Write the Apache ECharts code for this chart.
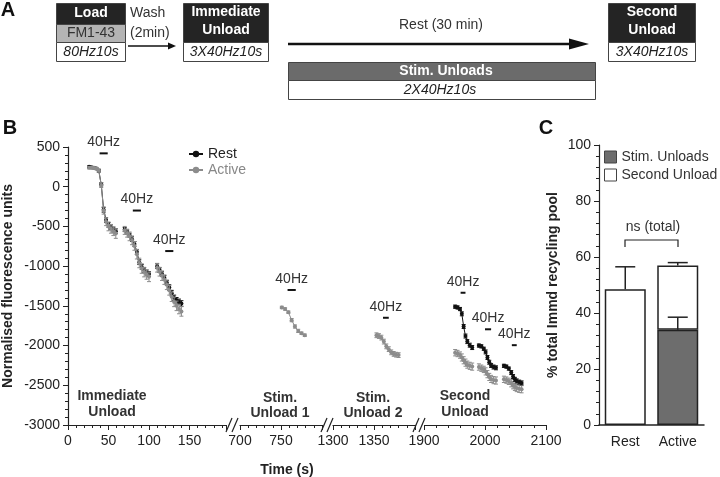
<!DOCTYPE html>
<html><head><meta charset="utf-8">
<script src="https://cdn.jsdelivr.net/npm/echarts@6/dist/echarts.min.js"></script>
<style>html,body{margin:0;padding:0;background:#fff}#c{width:720px;height:477px}</style>
</head><body><div id="c"></div>
<script>
const FONT = '"Liberation Sans", Arial, Helvetica, sans-serif';

// ---------- Panel B data (time in s, normalised fluorescence units) ----------
// Immediate unload, three 40Hz trains
const immT1 = [26, 29, 32, 35, 38, 41, 44, 47, 50, 53, 56, 59];
const immRest1 = [250, 245, 240, 230, 200, 30, -290, -420, -480, -510, -540, -560];
const immAct1 = [240, 240, 235, 228, 205, 20, -300, -440, -500, -530, -560, -590];
const immRestErr1 = [10, 10, 12, 12, 15, 20, 30, 30, 30, 30, 30, 30];
const immActErr1 = [15, 15, 15, 15, 20, 30, 45, 50, 55, 55, 55, 60];

const immT2 = [70, 73, 76, 79, 82, 85, 88, 91, 94, 97, 100];
const immRest2 = [-540, -570, -610, -660, -720, -820, -950, -1010, -1050, -1080, -1100];
const immAct2 = [-550, -585, -625, -675, -745, -850, -960, -1030, -1075, -1105, -1135];
const immRestErr2 = [25, 25, 25, 30, 30, 30, 30, 30, 30, 30, 30];
const immActErr2 = [50, 50, 55, 55, 55, 60, 60, 60, 60, 60, 60];

const immT3 = [110, 113, 116, 119, 122, 125, 128, 131, 134, 137, 140];
const immRest3 = [-1000, -1050, -1100, -1150, -1210, -1270, -1340, -1400, -1430, -1450, -1470];
const immAct3 = [-1020, -1070, -1120, -1170, -1235, -1305, -1385, -1450, -1500, -1540, -1570];
const immRestErr3 = [30, 30, 30, 30, 30, 35, 35, 35, 35, 35, 35];
const immActErr3 = [55, 55, 60, 60, 60, 60, 60, 60, 60, 60, 60];

// Stim. Unload 1 (Active only)
const s1T = [751, 755, 759, 763, 767, 771, 775, 779];
const s1Act = [-1520, -1540, -1580, -1680, -1760, -1815, -1845, -1870];
const s1Err = [15, 15, 15, 20, 20, 20, 15, 15];

// Stim. Unload 2 (Active only)
const s2T = [1353, 1356, 1359, 1362, 1365, 1368, 1371, 1374, 1377, 1380];
const s2Act = [-1870, -1880, -1900, -1950, -2010, -2045, -2085, -2105, -2115, -2120];
const s2Err = [30, 30, 30, 30, 30, 30, 30, 30, 30, 30];

// Second unload, three 40Hz trains
const secT1 = [1951, 1955, 1959, 1962, 1965, 1968, 1971, 1975, 1979];
const secRest1 = [-1510, -1520, -1540, -1600, -1760, -1880, -1950, -1995, -2025];
const secAct1 = [-2090, -2100, -2120, -2150, -2185, -2215, -2240, -2255, -2265];
const secT2 = [1990, 1994, 1998, 2001, 2004, 2007, 2010, 2014, 2018];
const secRest2 = [-2000, -2010, -2040, -2080, -2150, -2210, -2250, -2270, -2280];
const secAct2 = [-2270, -2285, -2300, -2325, -2360, -2395, -2420, -2435, -2440];
const secT3 = [2031, 2035, 2039, 2043, 2046, 2049, 2052, 2056, 2060];
const secRest3 = [-2255, -2265, -2290, -2340, -2390, -2425, -2445, -2460, -2470];
const secAct3 = [-2425, -2435, -2450, -2475, -2500, -2520, -2535, -2545, -2550];
const secRestErr = [20, 20, 20, 25, 25, 25, 25, 25, 25];
const secActErr = [40, 40, 40, 45, 45, 45, 45, 45, 45];

// 40Hz stimulus bars: [start s, end s, level]
const stimSeg1 = [[39, 49, 420], [80, 90, -300], [120, 130, -810]];
const stimSeg2 = [[758, 768, -1300]];
const stimSeg3 = [[1361, 1368, -1650]];
const stimSeg4 = [[1960, 1968, -1335], [2000, 2010, -1795], [2044, 2052, -1995]];

// ---------- Panel C data (% total Immd recycling pool) ----------
const condCats = ['Rest', 'Active'];
const stimUnloadPct = ['-', 34];
const secondUnloadPct = [48.5, 23];
const totalPct = [48.5, 57];
const totalErr = [8, 1];
const stimErr = [null, 4.5];

// ---------- helpers ----------
const REST_C = '#111';
const ACT_C = '#8c8c8c';
const plain = v => String(v);

function pts(ts, vs) { return ts.map((t, i) => [t, vs[i]]); }
function ptsErr(ts, vs, es) { return ts.map((t, i) => [t, vs[i], es[i]]); }

function lineS(name, g, ts, vs, color, z) {
  return {
    type: 'line', name, xAxisIndex: g, yAxisIndex: g, data: pts(ts, vs),
    symbol: 'circle', symbolSize: 4, showSymbol: true,
    lineStyle: { width: 1, color }, itemStyle: { color }, z, silent: true
  };
}
function errS(g, ts, vs, es, color, z) {
  return {
    type: 'custom', name: 'err', xAxisIndex: g, yAxisIndex: g, z, silent: true,
    data: ptsErr(ts, vs, es), encode: { x: 0, y: 1 },
    renderItem: (p, api) => {
      const t = api.value(0), v = api.value(1), e = api.value(2);
      const hi = api.coord([t, v + e]), lo = api.coord([t, v - e]);
      const w = 2, st = { stroke: color, lineWidth: 1 };
      return { type: 'group', children: [
        { type: 'line', shape: { x1: hi[0], y1: hi[1], x2: lo[0], y2: lo[1] }, style: st },
        { type: 'line', shape: { x1: hi[0] - w, y1: hi[1], x2: hi[0] + w, y2: hi[1] }, style: st },
        { type: 'line', shape: { x1: lo[0] - w, y1: lo[1], x2: lo[0] + w, y2: lo[1] }, style: st }
      ] };
    }
  };
}
function stimS(g, arr) {
  return {
    type: 'custom', name: 'stim', xAxisIndex: g, yAxisIndex: g, z: 8, silent: true,
    data: arr, encode: { x: [0, 1], y: 2 },
    renderItem: (p, api) => {
      const a = api.coord([api.value(0), api.value(2)]);
      const b = api.coord([api.value(1), api.value(2)]);
      return { type: 'group', children: [
        { type: 'line', shape: { x1: a[0], y1: a[1], x2: b[0], y2: b[1] }, style: { stroke: '#111', lineWidth: 2 } },
        { type: 'text', style: { text: '40Hz', x: (a[0] + b[0]) / 2, y: a[1] - 4, align: 'center', verticalAlign: 'bottom',
          font: '14px ' + FONT, fill: '#333' } }
      ] };
    }
  };
}

const axCol = '#222';
function bx(g, min, max, interval, hideMax) {
  return {
    type: 'value', gridIndex: g, min, max, interval,
    axisLine: { show: true, onZero: false, lineStyle: { color: axCol, width: 1.2 } },
    axisTick: { show: true, length: 5, lineStyle: { color: axCol, width: 1 } },
    minorTick: { show: true, splitNumber: 5, length: 3, lineStyle: { color: axCol, width: 1 } },
    splitLine: { show: false },
    axisLabel: { fontSize: 14, color: axCol, margin: 9, fontFamily: FONT, formatter: plain,
      showMaxLabel: !hideMax, showMinLabel: true }
  };
}
function by(g, show) {
  return {
    type: 'value', gridIndex: g, min: -3000, max: 500, interval: 500, show,
    axisLine: { show: true, onZero: false, lineStyle: { color: axCol, width: 1.2 } },
    axisTick: { show: true, length: 5, lineStyle: { color: axCol } },
    minorTick: { show: true, splitNumber: 5, length: 3, lineStyle: { color: axCol } },
    splitLine: { show: false },
    axisLabel: { fontSize: 14, color: axCol, margin: 8, fontFamily: FONT, formatter: plain },
    name: show ? 'Normalised fluorescence units' : '', nameLocation: 'middle', nameGap: 53,
    nameTextStyle: { fontWeight: 'bold', fontSize: 14, color: axCol, fontFamily: FONT }
  };
}

// ---------- graphic annotations ----------
function T(x, y, text, o) {
  o = o || {};
  return { type: 'text', x, y, silent: true, z: 10, style: {
    text, fill: o.fill || '#222', align: o.align || 'center', verticalAlign: 'middle',
    font: (o.style || 'normal') + ' ' + (o.weight || 'normal') + ' ' + (o.size || 14) + 'px ' + FONT } };
}
function R(x, y, w, h, fill) {
  return { type: 'rect', silent: true, shape: { x, y, width: w, height: h }, style: { fill, stroke: '#444', lineWidth: 1 } };
}
function L(x1, y1, x2, y2, w, c) {
  return { type: 'line', silent: true, z: 10, shape: { x1, y1, x2, y2 }, style: { stroke: c || '#111', lineWidth: w || 1 } };
}
function brk(cx, y) {
  return [
    { type: 'rect', silent: true, z: 9, shape: { x: cx - 4, y: y - 3, width: 8, height: 6 }, style: { fill: '#fff' } },
    L(cx - 7, y + 7, cx - 1, y - 7, 1.2, '#222'),
    L(cx - 1, y + 7, cx + 5, y - 7, 1.2, '#222')
  ];
}

const graphics = [
  // Panel A
  T(8, 10, 'A', { weight: 'bold', size: 20, fill: '#111' }),
  R(56.5, 3.5, 69, 21, '#242424'), R(56.5, 24.5, 69, 18, '#b4b4b4'), R(56.5, 42.5, 69, 19, '#fff'),
  T(91, 13.5, 'Load', { weight: 'bold', fill: '#fff' }),
  T(91, 33.5, 'FM1-43', { fill: '#333' }),
  T(91, 52, '80Hz10s', { style: 'italic', fill: '#222' }),
  T(130, 13.5, 'Wash', { align: 'left', fill: '#333' }),
  T(130, 33.5, '(2min)', { align: 'left', fill: '#333' }),
  L(128, 46, 170, 46, 1.5),
  { type: 'polygon', silent: true, shape: { points: [[176, 46], [168, 42.5], [168, 49.5]] }, style: { fill: '#111' } },
  R(183.5, 3.5, 85, 39, '#242424'), R(183.5, 42.5, 85, 19, '#fff'),
  T(226, 12.5, 'Immediate', { weight: 'bold', fill: '#fff' }),
  T(226, 30, 'Unload', { weight: 'bold', fill: '#fff' }),
  T(226, 52, '3X40Hz10s', { style: 'italic' }),
  L(288, 44, 574, 44, 2.5),
  { type: 'polygon', silent: true, shape: { points: [[589, 44], [569, 38.5], [569, 49.5]] }, style: { fill: '#111' } },
  T(441, 25, 'Rest (30 min)', { fill: '#333' }),
  R(288.5, 62.5, 307, 18, '#6b6b6b'), R(288.5, 80.5, 307, 19, '#fff'),
  T(446, 71.5, 'Stim. Unloads', { weight: 'bold', fill: '#fff' }),
  T(440, 90, '2X40Hz10s', { style: 'italic' }),
  R(608.5, 3.5, 87, 39, '#242424'), R(608.5, 42.5, 87, 19, '#fff'),
  T(652, 12.5, 'Second', { weight: 'bold', fill: '#fff' }),
  T(652, 30, 'Unload', { weight: 'bold', fill: '#fff' }),
  T(652, 52, '3X40Hz10s', { style: 'italic' }),
  // Panel B
  T(10, 128, 'B', { weight: 'bold', size: 20, fill: '#111' }),
  T(112, 396, 'Immediate', { weight: 'bold', fill: '#333' }),
  T(112, 412, 'Unload', { weight: 'bold', fill: '#333' }),
  T(280, 398, 'Stim.', { weight: 'bold', fill: '#333' }),
  T(280, 413, 'Unload 1', { weight: 'bold', fill: '#333' }),
  T(373, 398, 'Stim.', { weight: 'bold', fill: '#333' }),
  T(373, 413, 'Unload 2', { weight: 'bold', fill: '#333' }),
  T(465, 396, 'Second', { weight: 'bold', fill: '#333' }),
  T(465, 412, 'Unload', { weight: 'bold', fill: '#333' }),
  T(287, 470, 'Time (s)', { weight: 'bold', fill: '#222' }),
  ...brk(233, 425), ...brk(328, 425), ...brk(420, 425),
  // Panel C
  T(546, 128, 'C', { weight: 'bold', size: 20, fill: '#111' }),
  T(653, 227, 'ns (total)', { fill: '#333' }),
  { type: 'polyline', silent: true, shape: { points: [[625, 247], [625, 240], [678, 240], [678, 247]] }, style: { stroke: '#222', lineWidth: 1.2, fill: null } }
];

// ---------- series ----------
const series = [
  // seg 1: Rest first, Active drawn over it
  lineS('Rest', 0, immT1, immRest1, REST_C, 3),
  lineS('Active', 0, immT1, immAct1, ACT_C, 5),
  lineS('Active', 0, immT2, immAct2, ACT_C, 5),
  lineS('Active', 0, immT3, immAct3, ACT_C, 5),
  lineS('Rest', 0, immT2, immRest2, REST_C, 3),
  lineS('Rest', 0, immT3, immRest3, REST_C, 3),
  errS(0, immT1, immRest1, immRestErr1, REST_C, 2),
  errS(0, immT2, immRest2, immRestErr2, REST_C, 2),
  errS(0, immT3, immRest3, immRestErr3, REST_C, 2),
  errS(0, immT1, immAct1, immActErr1, ACT_C, 4),
  errS(0, immT2, immAct2, immActErr2, ACT_C, 4),
  errS(0, immT3, immAct3, immActErr3, ACT_C, 4),
  stimS(0, stimSeg1),
  // seg 2
  lineS('Active', 1, s1T, s1Act, ACT_C, 5),
  errS(1, s1T, s1Act, s1Err, ACT_C, 4),
  stimS(1, stimSeg2),
  // seg 3
  lineS('Active', 2, s2T, s2Act, ACT_C, 5),
  errS(2, s2T, s2Act, s2Err, ACT_C, 4),
  stimS(2, stimSeg3),
  // seg 4
  lineS('Active', 3, secT1, secAct1, ACT_C, 3),
  lineS('Active', 3, secT2, secAct2, ACT_C, 3),
  lineS('Active', 3, secT3, secAct3, ACT_C, 3),
  errS(3, secT1, secAct1, secActErr, ACT_C, 2),
  errS(3, secT2, secAct2, secActErr, ACT_C, 2),
  errS(3, secT3, secAct3, secActErr, ACT_C, 2),
  lineS('Rest', 3, secT1, secRest1, REST_C, 5),
  lineS('Rest', 3, secT2, secRest2, REST_C, 5),
  lineS('Rest', 3, secT3, secRest3, REST_C, 5),
  errS(3, secT1, secRest1, secRestErr, REST_C, 4),
  errS(3, secT2, secRest2, secRestErr, REST_C, 4),
  errS(3, secT3, secRest3, secRestErr, REST_C, 4),
  stimS(3, stimSeg4),
  // Panel C bars
  { type: 'bar', name: 'Stim. Unloads', xAxisIndex: 4, yAxisIndex: 4, stack: 'pool', data: stimUnloadPct,
    barWidth: 41, itemStyle: { color: '#6d6d6d', borderColor: '#222', borderWidth: 1.5 }, silent: true },
  { type: 'bar', name: 'Second Unload', xAxisIndex: 4, yAxisIndex: 4, stack: 'pool', data: secondUnloadPct,
    barWidth: 41, itemStyle: { color: '#fff', borderColor: '#222', borderWidth: 1.5 }, silent: true },
  { type: 'custom', name: 'barErr', xAxisIndex: 4, yAxisIndex: 4, z: 8, silent: true,
    data: [[0, totalPct[0], totalErr[0]], [1, totalPct[1], totalErr[1]], [1, stimUnloadPct[1], stimErr[1]]],
    encode: { x: 0, y: 1 },
    renderItem: (p, api) => {
      const c = api.value(0), v = api.value(1), e = api.value(2);
      const lo = api.coord([c, v]), hi = api.coord([c, v + e]);
      const st = { stroke: '#222', lineWidth: 1.5 };
      return { type: 'group', children: [
        { type: 'line', shape: { x1: lo[0], y1: lo[1], x2: hi[0], y2: hi[1] }, style: st },
        { type: 'line', shape: { x1: hi[0] - 10, y1: hi[1], x2: hi[0] + 10, y2: hi[1] }, style: st }
      ] };
    } }
];

const option = {
  animation: false,
  backgroundColor: '#fff',
  textStyle: { fontFamily: FONT },
  grid: [
    { left: 68, top: 147, width: 158, height: 278 },
    { left: 240, top: 147, width: 82, height: 278 },
    { left: 333, top: 147, width: 82, height: 278 },
    { left: 424, top: 147, width: 122, height: 278 },
    { left: 599, top: 145, width: 105, height: 280 }
  ],
  xAxis: [
    bx(0, 0, 195, 50, true),
    bx(1, 700, 800, 50, true),
    bx(2, 1300, 1400, 50, true),
    bx(3, 1900, 2100, 100, false),
    { type: 'category', gridIndex: 4, data: condCats,
      axisLine: { show: true, onZero: false, lineStyle: { color: axCol, width: 1.5 } },
      axisTick: { show: false }, splitLine: { show: false },
      axisLabel: { fontSize: 14, color: axCol, margin: 10, fontFamily: FONT } }
  ],
  yAxis: [
    by(0, true), by(1, false), by(2, false), by(3, false),
    { type: 'value', gridIndex: 4, min: 0, max: 100, interval: 20,
      axisLine: { show: true, onZero: false, lineStyle: { color: axCol, width: 1.2 } },
      axisTick: { show: true, length: 5, lineStyle: { color: axCol } },
      minorTick: { show: true, splitNumber: 5, length: 3, lineStyle: { color: axCol } },
      splitLine: { show: false },
      axisLabel: { fontSize: 14, color: axCol, margin: 8, fontFamily: FONT },
      name: '% total Immd recycling pool', nameLocation: 'middle', nameGap: 39,
      nameTextStyle: { fontWeight: 'bold', fontSize: 14, color: axCol, fontFamily: FONT } }
  ],
  legend: [
    { data: [{ name: 'Rest', textStyle: { color: '#222' } }, { name: 'Active', textStyle: { color: '#888' } }],
      orient: 'vertical', left: 183, top: 142, itemWidth: 14, itemHeight: 8, itemGap: 2,
      selectedMode: false, textStyle: { fontSize: 14, fontFamily: FONT } },
    { data: ['Stim. Unloads', 'Second Unload'], orient: 'vertical', left: 599, top: 145,
      icon: 'rect', itemWidth: 12, itemHeight: 12, itemGap: 4, selectedMode: false,
      itemStyle: { borderColor: '#444', borderWidth: 1 },
      textStyle: { fontSize: 14, color: '#333', fontFamily: FONT } }
  ],
  graphic: graphics,
  series
};

const chart = echarts.init(document.getElementById('c'), null, { renderer: 'canvas' });
chart.setOption(option);
</script></body></html>
